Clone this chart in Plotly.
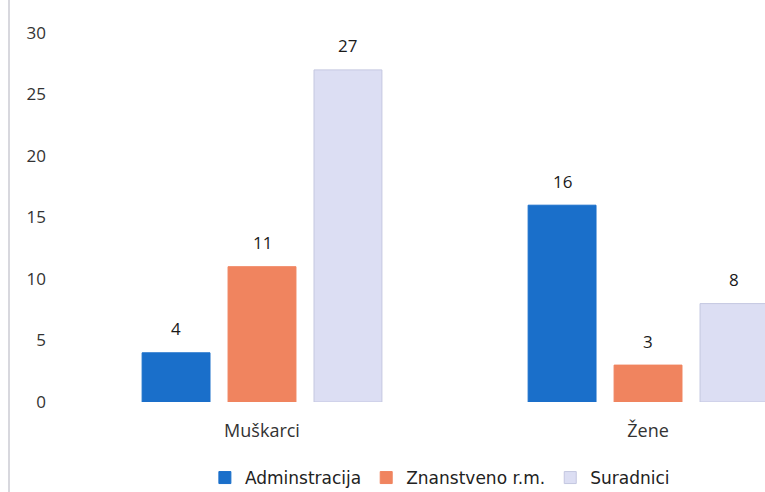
import plotly.graph_objects as go

categories = ["Muškarci", "Žene"]
series_names = ["Adminstracija", "Znanstveno r.m.", "Suradnici"]
admin = [4, 16]
znan = [11, 3]
surad = [27, 8]
y_ticks = [0, 5, 10, 15, 20, 25, 30]

colors = ["#1a6fca", "#f0845f", "#dcdef3"]
line_colors = ["#1a6fca", "#f0845f", "#c4c7e0"]
values = [admin, znan, surad]

BARGAP = 0.332
fig = go.Figure()
annotations = []
slot = (1 - BARGAP) / 3
for k, (name, vals, c, lc) in enumerate(zip(series_names, values, colors, line_colors)):
    fig.add_trace(go.Bar(
        x=categories, y=vals, name=name,
        marker=dict(color=c, line=dict(color=lc, width=1)),
        cliponaxis=False,
    ))
    for i, v in enumerate(vals):
        annotations.append(dict(
            x=i + (k - 1) * slot, y=v, xref="x", yref="y",
            text=str(v), showarrow=False, yanchor="middle", yshift=24,
            font=dict(size=17, color="#1a1a1a", family="Open Sans"),
        ))

fig.update_layout(
    width=765, height=492,
    paper_bgcolor="white", plot_bgcolor="white",
    margin=dict(l=69, r=0, t=33, b=90, autoexpand=False),
    barmode="group", bargap=BARGAP, bargroupgap=0.21,
    font=dict(family="Open Sans", color="#333333", size=16),
    showlegend=True,
    legend=dict(orientation="h", x=0.575, xanchor="center", xref="container",
                y=(492 - 478) / 492, yanchor="middle", yref="container",
                font=dict(size=17, color="#222222", family="DejaVu Sans"),
                itemwidth=30, traceorder="normal"),
    xaxis=dict(range=[-0.5, 1.303], showgrid=False, zeroline=False, showline=False,
               automargin=False,
               ticks="", ticklabelstandoff=16, tickfont=dict(size=18, color="#333333")),
    yaxis=dict(range=[0, 30], tickvals=y_ticks, showgrid=False, zeroline=False,
               showline=False, ticks="", ticklabelstandoff=22, automargin=False,
               tickfont=dict(size=17, color="#333333")),
    annotations=annotations,
    shapes=[dict(type="line", xref="paper", yref="paper",
                 x0=(9 - 69) / 696, x1=(9 - 69) / 696, y0=-90 / 369, y1=1 + 33 / 369,
                 line=dict(color="#d8d8de", width=2))],
)

fig.write_html("out.html", config={"displayModeBar": False},
               post_script="document.body.style.margin='0';document.body.style.overflow='hidden';")
